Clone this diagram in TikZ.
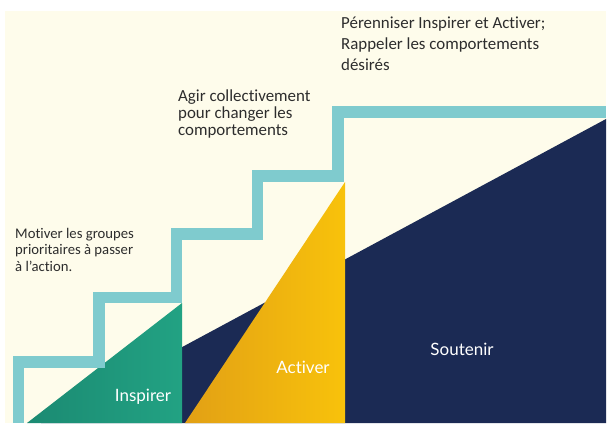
\documentclass[tikz,border=0pt]{standalone}
\usepackage{fontspec}
\setmainfont{Carlito}[Ligatures=NoCommon]
\newfontfamily\labfont{Lato}[Ligatures=NoCommon]
\definecolor{cream}{HTML}{FEFCEB}
\definecolor{tealband}{HTML}{7FCBCE}
\definecolor{navy}{HTML}{1B2A54}
\definecolor{greenA}{HTML}{1B8A72}
\definecolor{greenB}{HTML}{22A283}
\definecolor{yellowA}{HTML}{E2A015}
\definecolor{yellowB}{HTML}{F8C20B}
\definecolor{txt}{HTML}{2D2D2D}
\tikzset{
  note/.style={anchor=base west, align=left, text=txt, inner sep=0pt},
  label/.style={text=white, inner sep=0pt, font=\labfont\fontsize{17}{17}\selectfont},
  band/.style={draw=tealband, line width=11.5pt, line join=miter}
}
\begin{document}
\begin{tikzpicture}[x=1pt,y=-1pt]
\useasboundingbox (0,0) rectangle (609,423);
\fill[white] (0,0) rectangle (609,423);
\fill[cream] (5,11) rectangle (606,423);
% shapes
\fill[navy] (41,423) -- (606,119) -- (606,423) -- cycle;
\shade[left color=greenA, right color=greenB] (27,423) -- (182,303) -- (182,423) -- cycle;
\shade[left color=yellowA, right color=yellowB] (185,423) -- (345,182) -- (345,423) -- cycle;
% stair band
\draw[band] (18.4,423) -- (18.4,362) -- (99,362) -- (99,297.5) -- (176.5,297.5)
  -- (176.5,234) -- (257.5,234) -- (257.5,176) -- (338,176) -- (338,112) -- (606,112);
% labels
\node[label] (insp) at (143,397) {Inspirer};
\node[label] (act) at (303,367) {Activer};
\node[label] (sout) at (462,349) {Soutenir};
% notes (anchored at the baseline of their last line)
\node[note, font=\fontsize{14.7}{16.6}\selectfont] (n1) at (15,271.2)
  {Motiver les groupes\\prioritaires à passer\\à l’action.};
\node[note, font=\fontsize{16.9}{16.7}\selectfont] (n2) at (178,135.1)
  {Agir collectivement\\pour changer les\\comportements};
\node[note, font=\fontsize{16.9}{21}\selectfont] (n3) at (341,70)
  {Pérenniser Inspirer et Activer;\\Rappeler les comportements\\désirés};
\end{tikzpicture}
\end{document}
